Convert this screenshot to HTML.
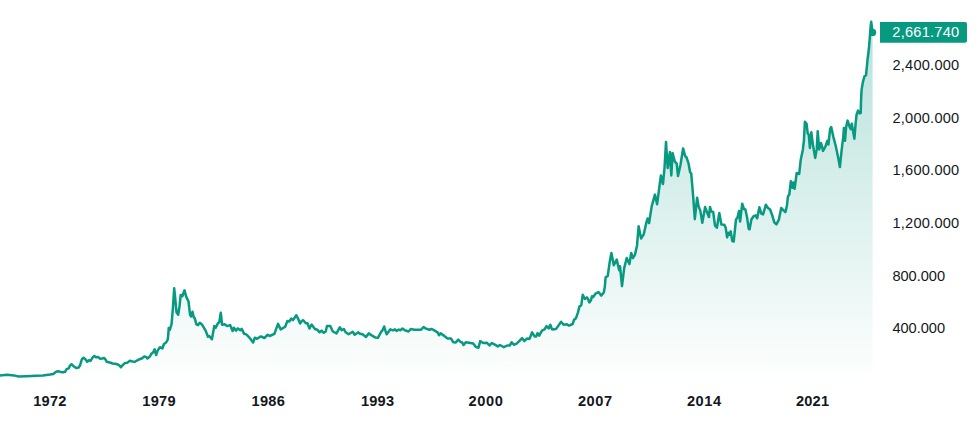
<!DOCTYPE html>
<html lang="en"><head><meta charset="utf-8"><title>Gold price chart</title>
<style>
html,body{margin:0;padding:0;background:#fff;}
body{width:977px;height:422px;overflow:hidden;font-family:"Liberation Sans",sans-serif;}
svg{display:block}
.yl text{font-size:14.6px;fill:#131722;font-family:"Liberation Sans",sans-serif}
.xl text{font-size:14.6px;font-weight:bold;fill:#131722;font-family:"Liberation Sans",sans-serif}
.tag{font-size:14.6px;fill:#fff;font-family:"Liberation Sans",sans-serif}
</style></head><body>
<svg width="977" height="422" viewBox="0 0 977 422">
<defs><linearGradient id="g" gradientUnits="userSpaceOnUse" x1="0" y1="0" x2="0" y2="384">
<stop offset="0" stop-color="#089981" stop-opacity="0.31"/><stop offset="1" stop-color="#089981" stop-opacity="0"/></linearGradient></defs>
<path d="M-2.0,375.7 L0.0,375.6 L7.0,374.8 L14.0,375.4 L18.6,376.5 L26.5,376.2 L36.0,375.7 L43.0,375.4 L50.0,374.5 L53.3,374.0 L55.8,371.9 L58.0,371.2 L60.6,371.9 L63.1,372.3 L65.1,371.8 L66.6,369.1 L68.7,368.3 L70.0,365.6 L71.5,364.3 L73.7,366.2 L76.2,368.1 L78.7,367.5 L80.2,365.0 L81.8,359.4 L83.5,357.7 L85.2,359.0 L87.2,361.8 L89.0,360.2 L90.6,361.0 L92.5,357.7 L94.3,356.0 L96.0,357.2 L98.1,356.9 L100.2,358.7 L102.2,358.5 L104.1,357.9 L105.6,359.7 L106.8,361.8 L108.7,362.2 L110.6,362.7 L112.4,363.5 L114.9,363.7 L117.4,364.3 L119.3,365.3 L120.9,367.2 L122.7,365.2 L124.9,363.1 L127.2,362.7 L129.9,360.8 L132.4,361.5 L134.9,361.8 L137.4,360.3 L139.3,359.3 L141.8,358.5 L144.3,356.5 L146.2,356.9 L147.4,358.5 L148.9,357.2 L149.9,356.5 L151.4,353.7 L153.0,352.5 L154.6,349.4 L156.1,355.0 L157.6,350.6 L159.9,347.2 L162.4,348.5 L163.9,344.0 L166.1,342.5 L167.8,339.4 L168.4,333.0 L168.7,328.0 L169.9,329.7 L171.6,323.9 L172.9,308.2 L174.2,288.3 L175.2,298.2 L176.5,312.3 L178.2,314.8 L179.5,306.5 L180.7,294.9 L182.3,296.2 L184.5,290.3 L186.2,296.6 L188.5,301.5 L190.1,314.8 L191.1,316.5 L192.5,311.8 L193.8,317.3 L194.8,318.4 L196.4,324.3 L198.1,325.1 L199.8,322.8 L202.2,324.8 L205.6,330.6 L208.0,336.7 L209.2,336.0 L211.9,339.2 L214.3,326.1 L215.7,327.7 L218.0,323.1 L219.3,322.3 L220.8,312.8 L222.1,324.8 L224.6,324.3 L227.1,326.1 L230.1,325.1 L232.6,331.0 L233.9,327.7 L235.9,330.6 L237.9,328.4 L240.4,330.2 L241.7,328.9 L244.2,333.9 L246.2,334.4 L249.5,337.7 L253.1,342.5 L254.8,337.7 L257.0,338.8 L260.8,336.4 L264.4,338.0 L267.7,334.7 L269.7,336.0 L274.4,333.9 L278.0,323.9 L280.7,329.4 L285.2,326.7 L287.3,321.1 L289.3,321.4 L291.3,318.6 L293.0,320.1 L296.3,315.3 L298.4,319.4 L300.1,323.5 L301.7,321.0 L303.3,320.2 L305.8,323.2 L307.5,323.2 L309.5,328.5 L311.6,324.5 L314.9,329.0 L317.4,329.8 L319.6,332.3 L321.6,330.6 L323.5,332.8 L325.7,331.5 L327.0,326.0 L330.3,326.0 L332.8,331.5 L336.5,333.4 L339.8,327.3 L341.8,330.3 L343.9,329.0 L345.6,332.3 L348.6,334.3 L352.7,331.8 L354.7,334.8 L358.4,332.3 L360.0,333.9 L362.2,333.9 L366.0,336.9 L368.8,333.4 L371.3,335.1 L375.5,337.6 L377.9,337.8 L381.3,331.5 L382.4,330.6 L384.2,326.5 L385.4,330.6 L386.7,334.3 L390.4,329.3 L392.9,330.3 L394.9,329.3 L396.5,331.0 L398.7,329.5 L400.3,330.3 L402.5,328.6 L404.8,330.3 L408.6,331.5 L410.8,329.0 L414.4,329.8 L421.1,329.8 L423.5,327.0 L426.0,328.6 L429.4,329.8 L431.8,329.0 L434.7,330.6 L437.6,332.3 L439.0,335.3 L440.6,333.4 L444.3,335.9 L447.6,338.4 L450.9,338.4 L453.2,342.2 L455.8,342.4 L458.3,339.7 L460.5,342.0 L461.9,342.2 L463.6,345.0 L465.8,342.2 L469.1,342.7 L473.2,343.4 L475.7,346.7 L478.5,347.7 L480.2,341.1 L483.2,343.0 L486.8,342.7 L489.5,345.5 L491.8,343.0 L494.8,344.7 L497.8,346.4 L499.8,345.0 L503.9,347.2 L507.2,345.5 L509.7,345.5 L511.7,342.2 L513.8,344.7 L516.3,343.9 L519.7,340.6 L522.1,338.1 L524.3,341.1 L527.1,338.4 L529.6,338.9 L532.1,332.3 L534.6,336.4 L536.2,336.4 L537.6,333.1 L539.2,335.6 L542.0,330.6 L544.5,329.4 L546.5,326.1 L548.7,328.4 L550.3,324.8 L552.0,329.4 L556.1,328.9 L561.1,321.8 L563.6,324.8 L566.9,324.3 L569.1,325.6 L572.7,324.0 L574.0,319.8 L576.0,318.2 L578.0,312.4 L579.4,306.6 L581.3,305.2 L582.7,294.8 L584.9,299.0 L586.8,297.4 L587.8,298.6 L589.4,302.4 L590.9,300.3 L592.0,296.3 L593.2,297.0 L595.5,293.6 L598.5,292.1 L601.2,295.6 L603.8,292.5 L604.8,287.0 L605.6,277.4 L607.7,276.0 L609.7,262.1 L611.4,252.9 L613.8,265.2 L616.7,259.6 L619.2,270.3 L620.0,266.2 L622.0,286.2 L624.1,268.6 L626.7,258.0 L629.4,264.1 L631.2,252.9 L632.9,258.0 L634.9,254.9 L637.0,245.7 L638.6,226.3 L641.1,238.5 L643.7,234.4 L646.2,223.2 L647.6,218.5 L649.1,223.0 L651.7,206.4 L654.9,194.6 L657.1,204.2 L658.8,191.4 L660.9,175.4 L663.0,184.0 L664.5,168.0 L666.0,142.0 L667.7,168.0 L669.9,152.0 L671.3,175.4 L672.6,153.1 L674.8,161.6 L676.7,163.7 L678.0,176.1 L680.5,164.8 L683.1,148.4 L685.2,156.3 L686.5,157.3 L688.6,163.7 L690.1,172.2 L691.2,173.3 L693.3,197.8 L694.8,219.2 L697.1,197.8 L698.6,206.4 L700.3,210.6 L702.3,222.8 L705.1,207.1 L707.2,212.8 L708.9,217.0 L710.0,207.1 L711.5,211.6 L713.2,212.0 L715.0,225.6 L716.9,227.7 L719.3,213.0 L721.4,224.6 L724.3,224.8 L725.7,227.7 L727.1,237.4 L728.5,232.7 L729.5,234.6 L730.7,231.4 L732.3,241.0 L733.7,241.5 L736.0,219.5 L737.5,217.6 L739.0,211.0 L740.1,221.6 L742.2,203.7 L743.9,209.0 L745.4,209.5 L747.1,217.6 L748.7,228.8 L749.6,229.3 L751.4,219.5 L753.5,216.3 L755.6,215.3 L757.2,218.3 L759.4,207.3 L761.3,213.7 L763.1,214.4 L765.8,204.8 L768.0,208.0 L770.1,209.5 L772.2,215.2 L774.3,222.3 L776.4,224.3 L778.8,219.9 L781.2,208.0 L783.3,210.1 L785.4,212.2 L786.9,205.8 L788.0,196.2 L789.3,194.5 L790.8,181.3 L792.3,187.7 L793.3,182.4 L794.6,188.8 L796.7,173.0 L799.2,173.9 L800.7,160.0 L802.8,150.0 L803.9,140.8 L804.9,121.7 L806.6,123.8 L807.7,133.3 L808.8,134.9 L809.9,147.9 L811.3,132.3 L813.0,145.1 L815.2,157.9 L816.7,149.4 L817.7,131.2 L819.2,149.4 L820.9,143.0 L822.0,146.2 L823.0,150.9 L825.2,147.2 L827.3,140.8 L828.4,144.5 L830.1,129.1 L831.2,127.0 L833.3,136.6 L835.8,146.2 L838.0,156.8 L839.9,167.1 L841.6,150.4 L843.3,136.6 L843.9,128.0 L845.0,140.8 L846.1,127.0 L847.6,120.6 L849.7,127.0 L850.8,129.1 L851.8,123.8 L853.3,132.3 L854.4,138.7 L855.7,122.7 L856.6,114.5 L858.0,110.6 L859.5,113.4 L860.7,113.0 L861.0,102.0 L861.1,99.0 L861.6,89.6 L862.8,82.5 L864.5,76.2 L866.0,75.3 L866.4,71.5 L867.5,60.0 L868.8,49.5 L869.8,37.7 L870.7,25.8 L871.2,21.8 L872.0,28.0 L872.6,32.4 L872.6,384 L-2,384 Z" fill="url(#g)"/>
<path d="M-2.0,375.7 L0.0,375.6 L7.0,374.8 L14.0,375.4 L18.6,376.5 L26.5,376.2 L36.0,375.7 L43.0,375.4 L50.0,374.5 L53.3,374.0 L55.8,371.9 L58.0,371.2 L60.6,371.9 L63.1,372.3 L65.1,371.8 L66.6,369.1 L68.7,368.3 L70.0,365.6 L71.5,364.3 L73.7,366.2 L76.2,368.1 L78.7,367.5 L80.2,365.0 L81.8,359.4 L83.5,357.7 L85.2,359.0 L87.2,361.8 L89.0,360.2 L90.6,361.0 L92.5,357.7 L94.3,356.0 L96.0,357.2 L98.1,356.9 L100.2,358.7 L102.2,358.5 L104.1,357.9 L105.6,359.7 L106.8,361.8 L108.7,362.2 L110.6,362.7 L112.4,363.5 L114.9,363.7 L117.4,364.3 L119.3,365.3 L120.9,367.2 L122.7,365.2 L124.9,363.1 L127.2,362.7 L129.9,360.8 L132.4,361.5 L134.9,361.8 L137.4,360.3 L139.3,359.3 L141.8,358.5 L144.3,356.5 L146.2,356.9 L147.4,358.5 L148.9,357.2 L149.9,356.5 L151.4,353.7 L153.0,352.5 L154.6,349.4 L156.1,355.0 L157.6,350.6 L159.9,347.2 L162.4,348.5 L163.9,344.0 L166.1,342.5 L167.8,339.4 L168.4,333.0 L168.7,328.0 L169.9,329.7 L171.6,323.9 L172.9,308.2 L174.2,288.3 L175.2,298.2 L176.5,312.3 L178.2,314.8 L179.5,306.5 L180.7,294.9 L182.3,296.2 L184.5,290.3 L186.2,296.6 L188.5,301.5 L190.1,314.8 L191.1,316.5 L192.5,311.8 L193.8,317.3 L194.8,318.4 L196.4,324.3 L198.1,325.1 L199.8,322.8 L202.2,324.8 L205.6,330.6 L208.0,336.7 L209.2,336.0 L211.9,339.2 L214.3,326.1 L215.7,327.7 L218.0,323.1 L219.3,322.3 L220.8,312.8 L222.1,324.8 L224.6,324.3 L227.1,326.1 L230.1,325.1 L232.6,331.0 L233.9,327.7 L235.9,330.6 L237.9,328.4 L240.4,330.2 L241.7,328.9 L244.2,333.9 L246.2,334.4 L249.5,337.7 L253.1,342.5 L254.8,337.7 L257.0,338.8 L260.8,336.4 L264.4,338.0 L267.7,334.7 L269.7,336.0 L274.4,333.9 L278.0,323.9 L280.7,329.4 L285.2,326.7 L287.3,321.1 L289.3,321.4 L291.3,318.6 L293.0,320.1 L296.3,315.3 L298.4,319.4 L300.1,323.5 L301.7,321.0 L303.3,320.2 L305.8,323.2 L307.5,323.2 L309.5,328.5 L311.6,324.5 L314.9,329.0 L317.4,329.8 L319.6,332.3 L321.6,330.6 L323.5,332.8 L325.7,331.5 L327.0,326.0 L330.3,326.0 L332.8,331.5 L336.5,333.4 L339.8,327.3 L341.8,330.3 L343.9,329.0 L345.6,332.3 L348.6,334.3 L352.7,331.8 L354.7,334.8 L358.4,332.3 L360.0,333.9 L362.2,333.9 L366.0,336.9 L368.8,333.4 L371.3,335.1 L375.5,337.6 L377.9,337.8 L381.3,331.5 L382.4,330.6 L384.2,326.5 L385.4,330.6 L386.7,334.3 L390.4,329.3 L392.9,330.3 L394.9,329.3 L396.5,331.0 L398.7,329.5 L400.3,330.3 L402.5,328.6 L404.8,330.3 L408.6,331.5 L410.8,329.0 L414.4,329.8 L421.1,329.8 L423.5,327.0 L426.0,328.6 L429.4,329.8 L431.8,329.0 L434.7,330.6 L437.6,332.3 L439.0,335.3 L440.6,333.4 L444.3,335.9 L447.6,338.4 L450.9,338.4 L453.2,342.2 L455.8,342.4 L458.3,339.7 L460.5,342.0 L461.9,342.2 L463.6,345.0 L465.8,342.2 L469.1,342.7 L473.2,343.4 L475.7,346.7 L478.5,347.7 L480.2,341.1 L483.2,343.0 L486.8,342.7 L489.5,345.5 L491.8,343.0 L494.8,344.7 L497.8,346.4 L499.8,345.0 L503.9,347.2 L507.2,345.5 L509.7,345.5 L511.7,342.2 L513.8,344.7 L516.3,343.9 L519.7,340.6 L522.1,338.1 L524.3,341.1 L527.1,338.4 L529.6,338.9 L532.1,332.3 L534.6,336.4 L536.2,336.4 L537.6,333.1 L539.2,335.6 L542.0,330.6 L544.5,329.4 L546.5,326.1 L548.7,328.4 L550.3,324.8 L552.0,329.4 L556.1,328.9 L561.1,321.8 L563.6,324.8 L566.9,324.3 L569.1,325.6 L572.7,324.0 L574.0,319.8 L576.0,318.2 L578.0,312.4 L579.4,306.6 L581.3,305.2 L582.7,294.8 L584.9,299.0 L586.8,297.4 L587.8,298.6 L589.4,302.4 L590.9,300.3 L592.0,296.3 L593.2,297.0 L595.5,293.6 L598.5,292.1 L601.2,295.6 L603.8,292.5 L604.8,287.0 L605.6,277.4 L607.7,276.0 L609.7,262.1 L611.4,252.9 L613.8,265.2 L616.7,259.6 L619.2,270.3 L620.0,266.2 L622.0,286.2 L624.1,268.6 L626.7,258.0 L629.4,264.1 L631.2,252.9 L632.9,258.0 L634.9,254.9 L637.0,245.7 L638.6,226.3 L641.1,238.5 L643.7,234.4 L646.2,223.2 L647.6,218.5 L649.1,223.0 L651.7,206.4 L654.9,194.6 L657.1,204.2 L658.8,191.4 L660.9,175.4 L663.0,184.0 L664.5,168.0 L666.0,142.0 L667.7,168.0 L669.9,152.0 L671.3,175.4 L672.6,153.1 L674.8,161.6 L676.7,163.7 L678.0,176.1 L680.5,164.8 L683.1,148.4 L685.2,156.3 L686.5,157.3 L688.6,163.7 L690.1,172.2 L691.2,173.3 L693.3,197.8 L694.8,219.2 L697.1,197.8 L698.6,206.4 L700.3,210.6 L702.3,222.8 L705.1,207.1 L707.2,212.8 L708.9,217.0 L710.0,207.1 L711.5,211.6 L713.2,212.0 L715.0,225.6 L716.9,227.7 L719.3,213.0 L721.4,224.6 L724.3,224.8 L725.7,227.7 L727.1,237.4 L728.5,232.7 L729.5,234.6 L730.7,231.4 L732.3,241.0 L733.7,241.5 L736.0,219.5 L737.5,217.6 L739.0,211.0 L740.1,221.6 L742.2,203.7 L743.9,209.0 L745.4,209.5 L747.1,217.6 L748.7,228.8 L749.6,229.3 L751.4,219.5 L753.5,216.3 L755.6,215.3 L757.2,218.3 L759.4,207.3 L761.3,213.7 L763.1,214.4 L765.8,204.8 L768.0,208.0 L770.1,209.5 L772.2,215.2 L774.3,222.3 L776.4,224.3 L778.8,219.9 L781.2,208.0 L783.3,210.1 L785.4,212.2 L786.9,205.8 L788.0,196.2 L789.3,194.5 L790.8,181.3 L792.3,187.7 L793.3,182.4 L794.6,188.8 L796.7,173.0 L799.2,173.9 L800.7,160.0 L802.8,150.0 L803.9,140.8 L804.9,121.7 L806.6,123.8 L807.7,133.3 L808.8,134.9 L809.9,147.9 L811.3,132.3 L813.0,145.1 L815.2,157.9 L816.7,149.4 L817.7,131.2 L819.2,149.4 L820.9,143.0 L822.0,146.2 L823.0,150.9 L825.2,147.2 L827.3,140.8 L828.4,144.5 L830.1,129.1 L831.2,127.0 L833.3,136.6 L835.8,146.2 L838.0,156.8 L839.9,167.1 L841.6,150.4 L843.3,136.6 L843.9,128.0 L845.0,140.8 L846.1,127.0 L847.6,120.6 L849.7,127.0 L850.8,129.1 L851.8,123.8 L853.3,132.3 L854.4,138.7 L855.7,122.7 L856.6,114.5 L858.0,110.6 L859.5,113.4 L860.7,113.0 L861.0,102.0 L861.1,99.0 L861.6,89.6 L862.8,82.5 L864.5,76.2 L866.0,75.3 L866.4,71.5 L867.5,60.0 L868.8,49.5 L869.8,37.7 L870.7,25.8 L871.2,21.8 L872.0,28.0 L872.6,32.4" fill="none" stroke="#089981" stroke-width="2.5" stroke-linejoin="round" stroke-linecap="round"/>
<circle cx="872.6" cy="32.4" r="3.6" fill="#089981"/>
<path d="M880,22 H965 a2,2 0 0 1 2,2 V40.7 a2,2 0 0 1 -2,2 H880 Z" fill="#089981"/>
<text class="tag" x="892.3" y="37" textLength="66.8" lengthAdjust="spacing">2,661.740</text>
<g class="yl"><text x="892.4" y="70.1" textLength="66.8" lengthAdjust="spacing">2,400.000</text><text x="892.4" y="122.6" textLength="66.8" lengthAdjust="spacing">2,000.000</text><text x="892.4" y="175.1" textLength="66.8" lengthAdjust="spacing">1,600.000</text><text x="892.4" y="227.6" textLength="66.8" lengthAdjust="spacing">1,200.000</text><text x="892.4" y="280.6" textLength="52.6" lengthAdjust="spacing">800.000</text><text x="892.4" y="333.1" textLength="52.6" lengthAdjust="spacing">400.000</text></g>
<g class="xl"><text x="33.3" y="405.5" textLength="33.0" lengthAdjust="spacing">1972</text><text x="142.3" y="405.5" textLength="33.2" lengthAdjust="spacing">1979</text><text x="251.6" y="405.5" textLength="33.2" lengthAdjust="spacing">1986</text><text x="360.9" y="405.5" textLength="33.2" lengthAdjust="spacing">1993</text><text x="468.5" y="405.5" textLength="34.4" lengthAdjust="spacing">2000</text><text x="577.9" y="405.5" textLength="34.1" lengthAdjust="spacing">2007</text><text x="686.9" y="405.5" textLength="34.2" lengthAdjust="spacing">2014</text><text x="795.9" y="405.5" textLength="33.2" lengthAdjust="spacing">2021</text></g>
</svg>
</body></html>
